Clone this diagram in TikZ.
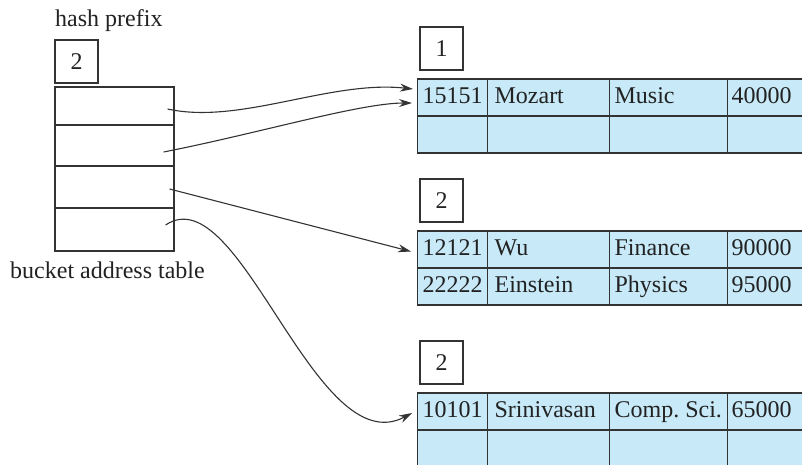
\documentclass[tikz,border=0pt]{standalone}
\usepackage{fontspec}
\setmainfont{Liberation Serif}
\usetikzlibrary{positioning,arrows.meta,calc}
\definecolor{cFill}{HTML}{C7E9F8}
\definecolor{cLine}{HTML}{333333}
\definecolor{cText}{HTML}{222222}

\begin{document}
\begin{tikzpicture}[
    x=1pt,y=-1pt,
    font=\fontsize{24}{28}\selectfont,
    >={Stealth[length=13pt,width=8pt]},
    box/.style={draw=cLine,line width=1.2pt,inner sep=0pt,text=cText},
    pre/.style={box,minimum size=43pt},
    slot/.style={box,minimum width=119pt},
    cell/.style={box,fill=cFill,anchor=west,minimum height=37pt,
                 text height=14pt,text depth=3pt},
    ptr/.style={->,line width=1.1pt,cLine},
    capt/.style={inner sep=0pt,text=cText,anchor=base west},
  ]
  \useasboundingbox (0,0) rectangle (802,464);
  \clip (0,0) rectangle (802,464);

  % ---------- BUCKET ADDRESS TABLE ----------
  \node[capt] (hplab) at (55,26) {hash prefix};
  \node[pre] (hp) at (76.5,61.5) {2};
  \foreach \r/\top/\h in {1/87/38,2/125/41,3/166/42,4/208/43}
    \node[slot,minimum height=\h pt] (bat\r) at (114.5,{\top+\h/2}) {};
  \node[capt] (batlab) at (10,278) {bucket address table};

  % ---------- BUCKETS ----------
  \foreach \b/\top/\d in {1/79/1,2/231/2,3/393/2}
    \node[pre] (pre\b) at (441.5,{\top-30.5}) {\d};

  \foreach \b/\r/\y/\ta/\tb/\tc/\td in {
      1/1/97.5/15151/Mozart/Music/40000,
      1/2/134.5/{}/{}/{}/{},
      2/1/249.5/12121/Wu/Finance/90000,
      2/2/286.5/22222/Einstein/Physics/95000,
      3/1/411.5/10101/Srinivasan/{Comp.~Sci.}/65000,
      3/2/448.5/{}/{}/{}/{}}{
    \foreach \c/\x/\w/\p/\t in {1/417/70/5/\ta,2/487/122/7/\tb,3/609/118/5/\tc,4/727/90/4/\td}
      \node[cell] (b\b r\r c\c) at (\x,\y) {\makebox[\w pt][l]{\hspace*{\p pt}\t}};
  }

  % ---------- POINTERS ----------
  \draw[ptr] ($(bat1.east)+(-7,3)$) .. controls (240,125) and (330,80) .. ($(b1r1c1.west)+(-4,-8.5)$);
  \draw[ptr] ($(bat2.east)+(-11,6.5)$) .. controls (260,133) and (360,103) .. ($(b1r1c1.west)+(-5,5.5)$);
  \draw[ptr] ($(bat3.east)+(-5,2)$) -- ($(b2r1c1.west)+(-6,2)$);
  \draw[ptr] ($(bat4.east)+(-9,-4.5)$) .. controls (240,175) and (315,465) .. ($(b3r1c1.west)+(-5,1.5)$);

\end{tikzpicture}
\end{document}
